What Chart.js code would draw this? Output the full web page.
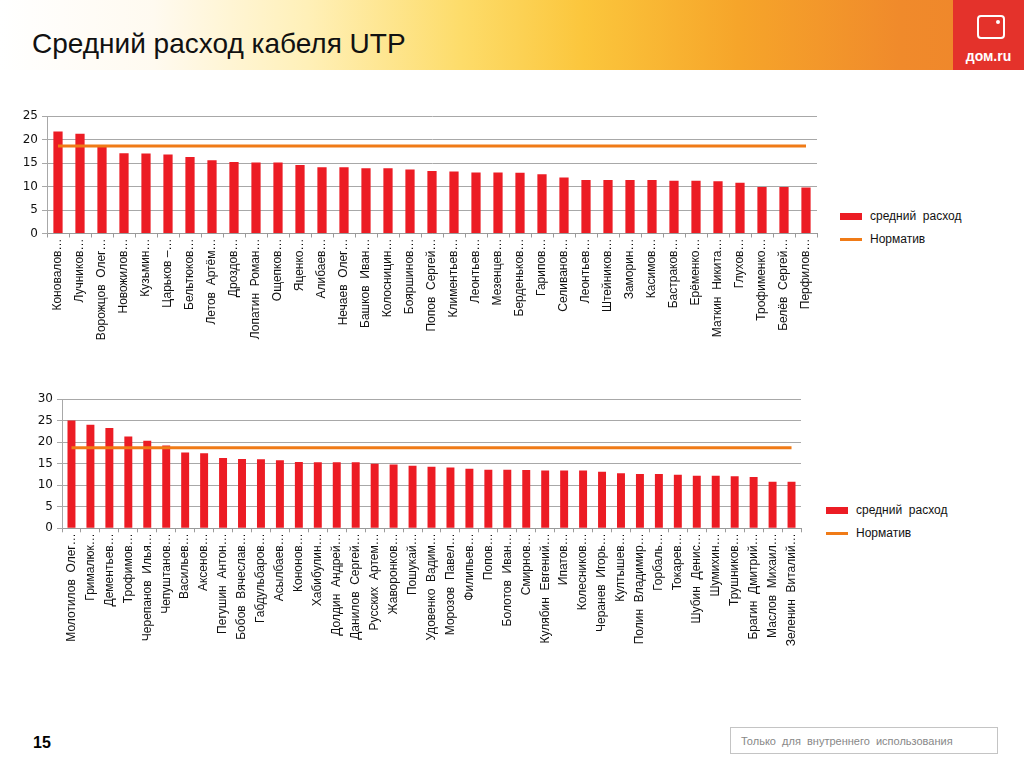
<!DOCTYPE html>
<html lang="ru">
<head>
<meta charset="utf-8">
<script src="https://cdn.jsdelivr.net/npm/chart.js@4/dist/chart.umd.min.js"></script>
<style>
  body { margin: 0; width: 1024px; height: 767px; position: relative; overflow: hidden; background: #fff; font-family: "Liberation Sans", Arial, sans-serif; }
  #header { position: absolute; left: 0; top: 0; width: 1024px; height: 70px;
    background: linear-gradient(to right, #ffffff 0%, #fffaf0 15%, #fff0b8 30%, #fddc6a 45%, #fbc63c 57%, #f6a52a 72%, #f08a2b 88%, #ef852b 100%); }
  #title { position: absolute; left: 32px; top: 28px; font-size: 28px; color: #111; }
  #logo { position: absolute; left: 953px; top: 0; width: 71px; height: 70px; background: #e4322b; }
  #tv { position: absolute; left: 24px; top: 15px; width: 24px; height: 20px; border: 2px solid #fff; border-radius: 4px; }
  #tv span { position: absolute; right: 3px; top: 3px; width: 4px; height: 4px; border-radius: 50%; background: #fff; }
  #logotext { position: absolute; left: 0; width: 71px; top: 48px; text-align: center; color: #fff; font-weight: bold; font-size: 14px; }
  canvas { position: absolute; left: 0; }
  .legend { position: absolute; font-size: 12px; color: #111; }
  .legend div { height: 23px; line-height: 23px; white-space: pre; }
  .legend i { display: inline-block; width: 22px; vertical-align: middle; margin-right: 8px; }
  #pagenum { position: absolute; left: 33px; top: 734px; font-size: 16px; font-weight: bold; }
  #note { position: absolute; left: 730px; top: 727px; width: 268px; height: 27px; border: 1px solid #c4c4c4;
    font-size: 11px; color: #888; line-height: 27px; padding-left: 10px; box-sizing: border-box; white-space: pre; }
</style>
</head>
<body>
<div id="header"><div id="title">Средний расход кабеля UTP</div></div>
<div id="logo"><div id="tv"><span></span></div><div id="logotext">дом.ru</div></div>

<canvas id="chartTop" width="830" height="250" style="top:100px"></canvas>
<div class="legend" id="legendTop" style="left:840px; top:205px"></div>

<canvas id="chartBottom" width="815" height="290" style="top:385px"></canvas>
<div class="legend" id="legendBottom" style="left:826px; top:499px"></div>

<div id="pagenum">15</div>
<div id="note">Только  для  внутреннего  использования</div>

<script>
/* data */
const topNames = [
  "Коновалов…", "Лучников…", "Ворожцов  Олег…", "Новожилов…", "Кузьмин…",
  "Царьков –…", "Бельтюков…", "Летов  Артём…", "Дроздов…", "Лопатин  Роман…",
  "Ощепков…", "Яценко…", "Алибаев…", "Нечаев  Олег…", "Башков  Иван…",
  "Колосницин…", "Бояршинов…", "Попов  Сергей…", "Климентьев…", "Леонтьев…",
  "Мезенцев…", "Берденьков…", "Гарипов…", "Селиванов…", "Леонтьев…",
  "Штейников…", "Заморин…", "Касимов…", "Бастраков…", "Ерёменко…",
  "Маткин  Никита…", "Глухов…", "Трофименко…", "Белёв  Сергей…", "Перфилов…"
];
const topValues = [
  21.7, 21.2, 18.5, 17.1, 17.0, 16.8, 16.3, 15.6, 15.2, 15.1,
  15.1, 14.6, 14.1, 14.1, 13.9, 13.9, 13.6, 13.3, 13.2, 13.0,
  13.0, 12.9, 12.6, 11.9, 11.4, 11.4, 11.4, 11.4, 11.2, 11.2,
  11.1, 10.8, 9.9, 9.9, 9.8
];
const topNorm = 18.6;
const topTicks = [0, 5, 10, 15, 20, 25];

const bottomNames = [
  "Молотилов  Олег…", "Грималюк…", "Дементьев…", "Трофимов…", "Черепанов  Илья…",
  "Чепуштанов…", "Васильев…", "Аксенов…", "Пегушин  Антон…", "Бобов  Вячеслав…",
  "Габдульбаров…", "Асылбаев…", "Кононов…", "Хабибулин…", "Долдин  Андрей…",
  "Данилов  Сергей…", "Русских  Артем…", "Жаворонков…", "Пошукай…", "Удовенко  Вадим…",
  "Морозов  Павел…", "Филипьев…", "Попов…", "Болотов  Иван…", "Смирнов…",
  "Кулябин  Евгений…", "Ипатов…", "Колесников…", "Черанев  Игорь…", "Култышев…",
  "Полин  Владимир…", "Горбаль…", "Токарев…", "Шубин  Денис…", "Шумихин…",
  "Трушников…", "Брагин  Дмитрий…", "Маслов  Михаил…", "Зеленин  Виталий…"
];
const bottomValues = [
  25.0, 24.0, 23.3, 21.3, 20.3, 19.2, 17.6, 17.4, 16.3, 16.1,
  16.0, 15.8, 15.4, 15.3, 15.3, 15.3, 15.0, 14.8, 14.5, 14.3,
  14.1, 13.8, 13.6, 13.6, 13.5, 13.4, 13.4, 13.4, 13.1, 12.8,
  12.6, 12.6, 12.4, 12.2, 12.2, 12.1, 11.9, 10.8, 10.8
];
const bottomNorm = 18.7;
const bottomTicks = [0, 5, 10, 15, 20, 25, 30];

const seriesLabels = ["средний  расход", "Норматив"];
const barColour = "#ec1c24";
const normColour = "#f07b17";

function buildChart(canvasId, names, values, norm, ticks, box) {
  const ctx = document.getElementById(canvasId).getContext("2d");
  return new Chart(ctx, {
    type: "bar",
    data: {
      labels: names,
      datasets: [
        {
          type: "line",
          label: seriesLabels[1],
          // the norm line runs from the first bar to the last one
          data: [
            { x: names[0], y: norm },
            { x: names[names.length - 1], y: norm },
          ],
          borderColor: normColour,
          borderWidth: 3,
          pointRadius: 0,
          order: 1,
        },
        {
          label: seriesLabels[0],
          data: values,
          backgroundColor: barColour,
          barPercentage: 0.42,
          categoryPercentage: 1,
          order: 2,
        },
      ],
    },
    options: {
      responsive: false,
      animation: false,
      events: [],
      layout: {
        padding: { top: box.top, right: box.right, left: 0, bottom: 0 },
      },
      plugins: {
        legend: { display: false },
        tooltip: { enabled: false },
      },
      scales: {
        x: {
          offset: true,
          grid: {
            offset: true,
            drawOnChartArea: false,
            tickLength: 4,
            color: "#9a9a9a",
          },
          border: { color: "#9a9a9a" },
          ticks: {
            autoSkip: false,
            maxRotation: 90,
            minRotation: 90,
            padding: 1,
            color: "#111",
            font: { family: "Liberation Sans", size: 12 },
          },
          afterFit: (axis) => {
            axis.height = box.xHeight;
          },
        },
        y: {
          min: ticks[0],
          max: ticks[ticks.length - 1],
          afterBuildTicks: (axis) => {
            axis.ticks = ticks.map((v) => ({ value: v }));
          },
          grid: { color: "#a8a8a8", tickLength: 5 },
          border: { color: "#a8a8a8" },
          ticks: {
            padding: 4,
            color: "#111",
            font: { family: "DejaVu Sans", size: 12 },
          },
          afterFit: (axis) => {
            axis.width = box.yWidth;
          },
        },
      },
    },
  });
}

function buildLegend(divId) {
  const div = document.getElementById(divId);
  div.innerHTML =
    '<div><i style="height:7px;background:' + barColour + '"></i>' + seriesLabels[0] + "</div>" +
    '<div><i style="height:3px;background:' + normColour + '"></i>' + seriesLabels[1] + "</div>";
}

buildChart("chartTop", topNames, topValues, topNorm, topTicks,
  { top: 16, right: 13, xHeight: 116.5, yWidth: 47 });
buildChart("chartBottom", bottomNames, bottomValues, bottomNorm, bottomTicks,
  { top: 14, right: 14, xHeight: 146.7, yWidth: 62 });
buildLegend("legendTop");
buildLegend("legendBottom");
</script>
</body>
</html>
